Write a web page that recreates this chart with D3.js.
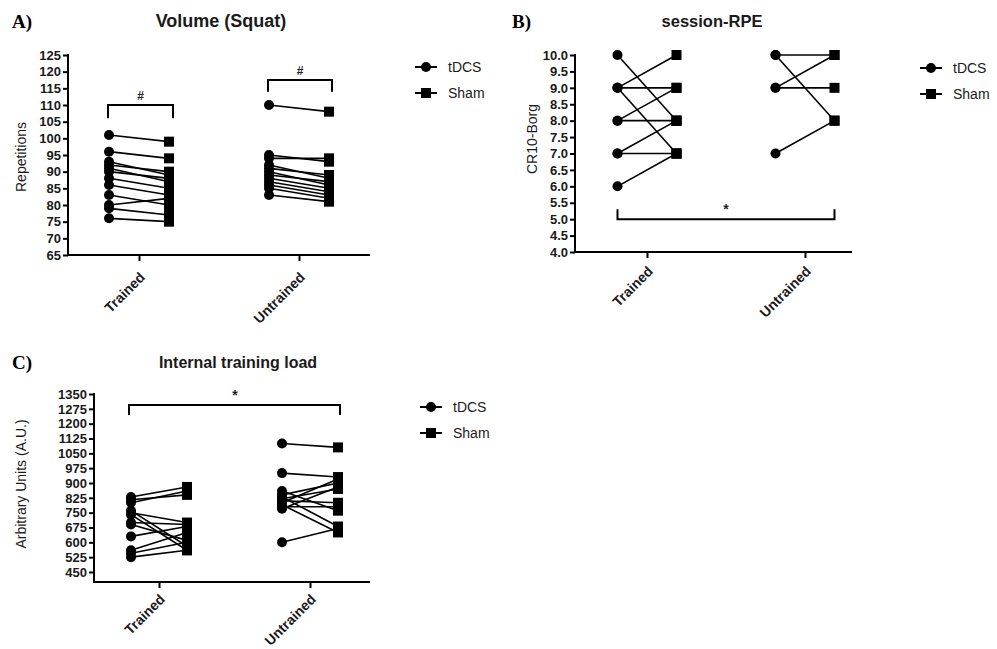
<!DOCTYPE html>
<html><head><meta charset="utf-8">
<script src="https://cdn.jsdelivr.net/npm/d3@7"></script>
<style>body{margin:0;background:#fff}svg{display:block}</style>
</head><body><svg id="c" width="997" height="649"></svg>
<script>
const categories = ["Trained","Untrained"];
// Panel A: Volume (Squat) repetitions
const volTrainedTDCS   = [101,96,93,92,91,90,88,86,83,80,79,76];
const volTrainedSham   = [99,94,89,90,87,88,85,83,80,82,77,75];
const volUntrainedTDCS = [110,95,94,92,91,90,89,88,87,86,85,83];
const volUntrainedSham = [108,93,94,88,89,86,87,85,84,83,82,81];
const volTicks = d3.range(65,126,5);
// Panel B: session-RPE
const rpeTrainedTDCS   = [10,9,9,9,8,8,7,7,6];
const rpeTrainedSham   = [8,10,9,7,8,9,7,8,7];
const rpeUntrainedTDCS = [10,10,9,9,7];
const rpeUntrainedSham = [10,8,10,9,8];
const rpeTicks = d3.range(4,10.01,0.5);
// Panel C: Internal training load
const itlTrainedTDCS   = [829,815,800,760,750,740,700,690,630,560,545,525];
const itlTrainedSham   = [880,840,860,580,700,560,690,610,680,650,600,560];
const itlUntrainedTDCS = [1100,950,860,840,830,820,810,800,790,780,770,600];
const itlUntrainedSham = [1080,930,760,900,680,870,800,920,650,780,880,670];
const itlTicks = d3.range(450,1351,75);

const legendLabels = ["tDCS","Sham"];

const svg = d3.select("#c");
const FONT = "'Liberation Sans', Arial, sans-serif";

function panel(cfg){
  const g = svg.append("g");
  const x = d3.scalePoint().domain(categories).range(cfg.xr);
  const y = d3.scaleLinear().domain(cfg.yd).range(cfg.yr);
  // y axis
  const ya = d3.axisLeft(y).tickValues(cfg.ticks).tickSize(5).tickPadding(2).tickFormat(cfg.fmt);
  const yg = g.append("g").attr("transform",`translate(${cfg.ax0},0)`).call(ya);
  yg.select(".domain").remove();
  yg.selectAll("line").attr("stroke","#000").attr("stroke-width",2);
  yg.selectAll("text").attr("font-family",FONT).attr("font-weight","bold").attr("font-size",13).attr("fill","#1a1a1a");
  g.append("line").attr("x1",cfg.ax0).attr("x2",cfg.ax0).attr("y1",y(cfg.yd[1])-1).attr("y2",cfg.axY+1).attr("stroke","#000").attr("stroke-width",2);
  // x axis
  const xa = d3.axisBottom(x).tickSize(6).tickPadding(0);
  const xg = g.append("g").attr("transform",`translate(0,${cfg.axY})`).call(xa);
  xg.select(".domain").remove();
  xg.selectAll("line").attr("stroke","#000").attr("stroke-width",2);
  xg.selectAll("text").attr("font-family",FONT).attr("font-weight","bold").attr("font-size",14).attr("fill","#1a1a1a")
    .attr("text-anchor","end").attr("dy",0).attr("transform",`translate(2,${cfg.xly}) rotate(-45)`);
  g.append("line").attr("x1",cfg.ax0-1).attr("x2",cfg.ax1).attr("y1",cfg.axY).attr("y2",cfg.axY).attr("stroke","#000").attr("stroke-width",2);
  // data
  const off = cfg.off;
  cfg.data.forEach(([cat,a,b])=>{
    const x0 = x(cat)-off, x1 = x(cat)+off;
    a.forEach((v,i)=>{
      g.append("line").attr("x1",x0).attr("y1",y(v)).attr("x2",x1).attr("y2",y(b[i])).attr("stroke","#000").attr("stroke-width",1.6);
    });
    a.forEach(v=>g.append("circle").attr("cx",x0).attr("cy",y(v)).attr("r",5).attr("fill","#000"));
    b.forEach(v=>g.append("rect").attr("x",x1-5).attr("y",y(v)-5).attr("width",10).attr("height",10).attr("fill","#000"));
  });
  // brackets
  cfg.brackets.forEach(br=>{
    const xa0 = x(br.c0)+br.o0, xa1 = x(br.c1)+br.o1;
    const yt = y(br.top), ye = y(br.end);
    g.append("path").attr("d",`M${xa0},${ye}V${yt}H${xa1}V${ye}`).attr("fill","none").attr("stroke","#000").attr("stroke-width",2);
    g.append("text").attr("x",br.lx!==undefined?br.lx:(xa0+xa1)/2).attr("y",yt-5).attr("text-anchor","middle")
      .attr("font-family",FONT).attr("font-weight","bold").attr("font-size",br.fs||12).attr("fill","#222").text(br.label);
  });
  // title & labels
  g.append("text").attr("x",cfg.tx).attr("y",cfg.ty).attr("text-anchor","middle").attr("font-family",FONT)
    .attr("font-weight","bold").attr("font-size",cfg.tfs).attr("fill","#1a1a1a").text(cfg.title);
  g.append("text").attr("x",cfg.px).attr("y",cfg.ty+1).attr("font-family","'Liberation Serif', 'Times New Roman', serif")
    .attr("font-weight","bold").attr("font-size",19).attr("fill","#000").text(cfg.tag);
  g.append("text").attr("transform",`translate(${cfg.ylx},${cfg.yly}) rotate(-90)`).attr("text-anchor","middle")
    .attr("font-family",FONT).attr("font-size",14).attr("fill","#1a1a1a").text(cfg.ylabel);
  // legend
  legendLabels.forEach((lab,i)=>{
    const ly = cfg.ly + i*26;
    g.append("line").attr("x1",cfg.lx).attr("x2",cfg.lx+22).attr("y1",ly).attr("y2",ly).attr("stroke","#000").attr("stroke-width",2);
    if(i===0) g.append("circle").attr("cx",cfg.lx+11).attr("cy",ly).attr("r",5).attr("fill","#000");
    else g.append("rect").attr("x",cfg.lx+6).attr("y",ly-5).attr("width",10).attr("height",10).attr("fill","#000");
    g.append("text").attr("x",cfg.lx+33).attr("y",ly+5).attr("font-family",FONT).attr("font-size",14).attr("fill","#1a1a1a").text(lab);
  });
}

panel({
  xr:[139,299], yd:[65,125], yr:[255,55], ticks:volTicks, fmt:d3.format("d"),
  ax0:68, ax1:370, axY:255, off:30, xly:19,
  data:[["Trained",volTrainedTDCS,volTrainedSham],["Untrained",volUntrainedTDCS,volUntrainedSham]],
  brackets:[{c0:"Trained",o0:-31,c1:"Trained",o1:34,top:110,end:106,label:"#"},
            {c0:"Untrained",o0:-31,c1:"Untrained",o1:33,top:117.5,end:114,label:"#"}],
  title:"Volume (Squat)", tfs:18, tx:221, ty:27, tag:"A)", px:12,
  ylabel:"Repetitions", ylx:26, yly:157, lx:415, ly:67
});
panel({
  xr:[647,805], yd:[4,10], yr:[252,55], ticks:rpeTicks, fmt:d3.format(".1f"),
  ax0:575, ax1:852, axY:252, off:29.5, xly:16,
  data:[["Trained",rpeTrainedTDCS,rpeTrainedSham],["Untrained",rpeUntrainedTDCS,rpeUntrainedSham]],
  brackets:[{c0:"Trained",o0:-29.5,c1:"Untrained",o1:29.5,top:5.0,end:5.3,label:"*",lx:726,fs:14}],
  title:"session-RPE", tfs:16.5, tx:712, ty:27, tag:"B)", px:512,
  ylabel:"CR10-Borg", ylx:537, yly:139, lx:920, ly:68
});
panel({
  xr:[159,310], yd:[450,1350], yr:[572,394], ticks:itlTicks, fmt:d3.format("d"),
  ax0:94, ax1:370, axY:582, off:28, xly:14,
  data:[["Trained",itlTrainedTDCS,itlTrainedSham],["Untrained",itlUntrainedTDCS,itlUntrainedSham]],
  brackets:[{c0:"Trained",o0:-30,c1:"Untrained",o1:30,top:1294,end:1244,label:"*",lx:235,fs:14}],
  title:"Internal training load", tfs:16, tx:238, ty:368, tag:"C)", px:12,
  ylabel:"Arbitrary Units (A.U.)", ylx:26, yly:484, lx:420, ly:407
});
</script></body></html>
